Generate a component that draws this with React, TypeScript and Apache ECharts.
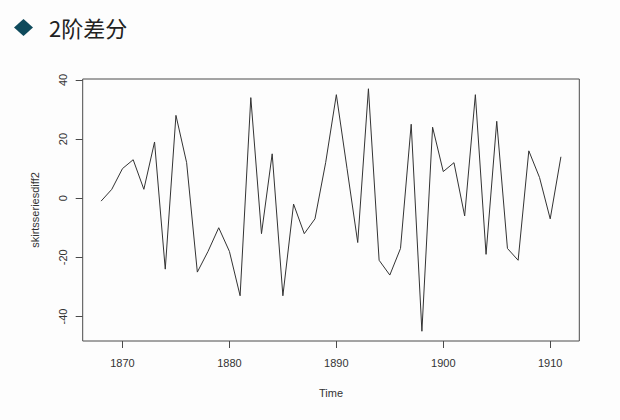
import React, { useEffect, useRef } from "react";
import * as echarts from "echarts";

const years: number[] = [
  1868, 1869, 1870, 1871, 1872, 1873, 1874, 1875, 1876, 1877, 1878, 1879, 1880, 1881, 1882,
  1883, 1884, 1885, 1886, 1887, 1888, 1889, 1890, 1891, 1892, 1893, 1894, 1895, 1896, 1897,
  1898, 1899, 1900, 1901, 1902, 1903, 1904, 1905, 1906, 1907, 1908, 1909, 1910, 1911,
];
const diff2: number[] = [
  -1, 3, 10, 13, 3, 19, -24, 28, 12, -25, -18, -10, -18, -33, 34,
  -12, 15, -33, -2, -12, -7, 12, 35, 10, -15, 37, -21, -26, -17, 25,
  -45, 24, 9, 12, -6, 35, -19, 26, -17, -21, 16, 7, -7, 14,
];
const xTicks: number[] = [1870, 1880, 1890, 1900, 1910];
const yTicks: number[] = [-40, -20, 0, 20, 40];
const titleText = "2阶差分";
const xName = "Time";
const yName = "skirtsseriesdiff2";

export default function App() {
  const ref = useRef<HTMLDivElement>(null);
  useEffect(() => {
    if (!ref.current) return;
    const chart = echarts.init(ref.current, null, { renderer: "svg" });
    const font = "'Liberation Sans', Arial, sans-serif";
    chart.setOption({
      animation: false,
      backgroundColor: "#fdfdfd",
      grid: {
        left: 82.7,
        right: 40.7,
        top: 79,
        bottom: 79,
        show: true,
        borderColor: "#4a4a4a",
        borderWidth: 1,
        backgroundColor: "transparent",
      },
      graphic: [
        {
          type: "polygon",
          shape: { points: [[14, 27.5], [23.5, 19], [33, 27.5], [23.5, 36]] },
          style: { fill: "#0e4a5c" },
        },
        {
          type: "text",
          left: 49,
          top: 16,
          style: {
            text: titleText,
            font: "22px 'Noto Sans CJK SC', sans-serif",
            fill: "#222222",
          },
        },
      ],
      xAxis: {
        type: "value",
        min: 1866.28,
        max: 1912.72,
        name: xName,
        nameLocation: "middle",
        nameGap: 46,
        nameTextStyle: { fontFamily: font, fontSize: 11, color: "#333" },
        axisLine: { show: false, onZero: false },
        axisTick: {
          show: true,
          inside: false,
          length: 7,
          customValues: xTicks,
          lineStyle: { color: "#4a4a4a", width: 1 },
        },
        axisLabel: {
          customValues: xTicks,
          formatter: (v: number) => String(v),
          margin: 16,
          fontFamily: font,
          fontSize: 11,
          color: "#333",
        },
        splitLine: { show: false },
      },
      yAxis: {
        type: "value",
        min: -48.3,
        max: 40.3,
        name: yName,
        nameLocation: "middle",
        nameRotate: 90,
        nameGap: 42,
        nameTextStyle: { fontFamily: font, fontSize: 11, color: "#333" },
        axisLine: { show: false, onZero: false },
        axisTick: {
          show: true,
          inside: false,
          length: 7,
          customValues: yTicks,
          lineStyle: { color: "#4a4a4a", width: 1 },
        },
        axisLabel: {
          customValues: yTicks,
          formatter: (v: number) => String(v),
          rotate: 90,
          margin: 14,
          fontFamily: font,
          fontSize: 11,
          color: "#333",
        },
        splitLine: { show: false },
      },
      series: [
        {
          type: "line",
          data: years.map((y, i) => [y, diff2[i]]),
          showSymbol: false,
          symbol: "none",
          lineStyle: { color: "#333333", width: 1 },
          silent: true,
        },
      ],
    });
    return () => chart.dispose();
  }, []);
  return (
    <div
      ref={ref}
      style={{ position: "fixed", left: 0, top: 0, width: 620, height: 420 }}
    />
  );
}
